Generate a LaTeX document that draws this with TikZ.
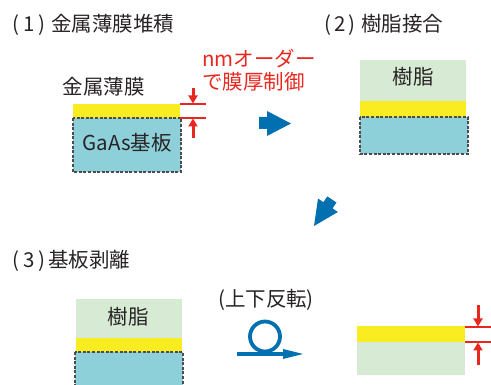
\documentclass[tikz,border=0pt]{standalone}
\usepackage{fontspec}
\setmainfont{Noto Sans CJK JP}
\usetikzlibrary{arrows.meta}
\definecolor{metal}{RGB}{249,236,32}
\definecolor{gaas}{RGB}{141,208,218}
\definecolor{resin}{RGB}{215,234,212}
\definecolor{flow}{RGB}{0,112,176}
\definecolor{dimred}{RGB}{232,40,30}
\definecolor{ink}{RGB}{40,36,37}
\begin{document}
\begin{tikzpicture}[x=1pt,y=-1pt,
  txt/.style={font=\fontsize{20.5}{22.5}\selectfont, text=ink, inner sep=0pt},
  metalbox/.style={fill=metal},
  gaasbox/.style={fill=gaas, draw=black!70, dash pattern=on 3pt off 1.6pt, line width=1.1pt},
  resinbox/.style={fill=resin},
  dimline/.style={draw=dimred, line width=2pt},
  dimarrow/.style={draw=dimred, line width=3pt, -{Triangle[length=8pt,width=9pt]}},
  flowarrow/.style={fill=flow},
  looparrow/.style={draw=flow, line width=3.8pt},
]
\useasboundingbox (0,0) rectangle (491,385);

% ---------- panel 1 ----------
\node[txt, anchor=west] (t1) at (12,25) {(\kern4pt 1\kern4pt)\hspace{6pt}金属薄膜堆積};
\node[txt] (lab1) at (104,87) {金属薄膜};
\fill[metalbox] (73,104) rectangle (180,118);
\draw[gaasbox] (73,118) rectangle (181,172);
\node[txt] (gaas1) at (127,143) {GaAs基板};
\coordinate (a1) at (180,104);
\coordinate (b1) at (206,104);
\coordinate (a2) at (180,118);
\coordinate (b2) at (206,118);
\draw[dimline] (a1) -- (b1);
\draw[dimline] (a2) -- (b2);
\coordinate (p1s) at (193,88);
\coordinate (p1e) at (193,103.5);
\coordinate (p2s) at (193,138);
\coordinate (p2e) at (193,118.5);
\draw[dimarrow] (p1s) -- (p1e);
\draw[dimarrow] (p2s) -- (p2e);
\node[txt, text=dimred, align=left, anchor=west] (note) at (202,70) {nmオーダー\\で膜厚制御};

% right arrow
\fill[flowarrow] (259,117) -- (267,117) -- (267,111) -- (291,123.5) -- (267,136) -- (267,129) -- (259,129) -- cycle;

% ---------- panel 2 ----------
\node[txt, anchor=west] (t2) at (324,25) {(\kern3pt 2\kern3pt)\hspace{6pt}樹脂接合};
\fill[resinbox] (360,60) rectangle (466,101);
\node[txt] (resin2) at (413,77) {樹脂};
\fill[metalbox] (360,101) rectangle (466,117);
\draw[gaasbox] (360,117) rectangle (468,154);

% diagonal arrow
\fill[flowarrow, shift={(314,226)}, rotate=236] (0,0) -- (-25,12) -- (-25,5.5) -- (-32,5.5) -- (-32,-5.5) -- (-25,-5.5) -- (-25,-12) -- cycle;

% ---------- panel 3 ----------
\node[txt, anchor=west] (t3) at (12,261) {(\kern4pt 3\kern4pt)\hspace{3pt}基板剥離};
\fill[resinbox] (76,299) rectangle (182,338);
\node[txt] (resin3) at (128,317) {樹脂};
\fill[metalbox] (76,338) rectangle (182,352);
\draw[gaasbox] (75,352) rectangle (183,392);

\node[txt] (flip) at (266,300) {(上下反転)};
\coordinate (lc) at (265,336.5);
\draw[looparrow] (lc) circle (15);
\coordinate (ls) at (237,354);
\coordinate (le) at (286,354);
\draw[looparrow] (ls) -- (le);
\fill[flow] (283,349) -- (303,354) -- (283,359) -- cycle;

\fill[metalbox] (357,326) rectangle (465,342);
\fill[resinbox] (357,342) rectangle (465,375);
\coordinate (c1) at (465,327);
\coordinate (d1) at (491,327);
\coordinate (c2) at (465,342);
\coordinate (d2) at (491,342);
\draw[dimline] (c1) -- (d1);
\draw[dimline] (c2) -- (d2);
\coordinate (q1s) at (478,305);
\coordinate (q1e) at (478,326.5);
\coordinate (q2s) at (478,365);
\coordinate (q2e) at (478,342.5);
\draw[dimarrow] (q1s) -- (q1e);
\draw[dimarrow] (q2s) -- (q2e);
\end{tikzpicture}
\end{document}
